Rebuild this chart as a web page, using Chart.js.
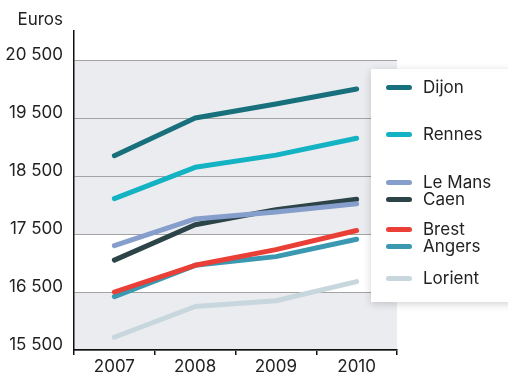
<!DOCTYPE html>
<html>
<head>
<meta charset="utf-8">
<script src="https://cdn.jsdelivr.net/npm/chart.js@4.4.1/dist/chart.umd.min.js"></script>
<style>
    body { margin: 0; background: #fff; font-family: Inter, sans-serif; }
    #wrap { position: relative; width: 508px; height: 373px; overflow: hidden; }
    #unit { position: absolute; right: 445px; top: 9px; font-size: 17px; color: #222; }
    #legend {
        position: absolute; left: 371px; top: 69px; width: 150px; height: 233px;
        background: #fff; box-shadow: 0 2px 8px rgba(0,0,0,0.18);
    }
    .leg-item { position: absolute; left: 15px; height: 20px; display: flex; align-items: center; }
    .leg-swatch { width: 26px; height: 5px; border-radius: 3px; margin-right: 11px; }
    .leg-label { font-size: 17px; color: #222; line-height: 20px; }
</style>
</head>
<body>
<div id="wrap">
    <canvas id="chart" width="508" height="373"></canvas>
    <div id="unit">Euros</div>
    <div id="legend"></div>
</div>
<script>
const years = ["2007", "2008", "2009", "2010"];
const yTicks = [15500, 16500, 17500, 18500, 19500, 20500];

const cities = ["Dijon", "Rennes", "Le Mans", "Caen", "Brest", "Angers", "Lorient"];
const dijon = [18850, 19500, 19740, 20000];
const rennes = [18110, 18650, 18860, 19150];
const leMans = [17300, 17760, 17880, 18020];
const caen = [17050, 17660, 17920, 18100];
const brest = [16500, 16960, 17230, 17560];
const angers = [16420, 16960, 17110, 17410];
const lorient = [15720, 16250, 16350, 16680];

const cityColors = ["#17707c", "#14b3c3", "#869ecb", "#2c4448", "#ea3f37", "#3a98b1", "#c8d6dd"];
const seriesValues = [dijon, rennes, leMans, caen, brest, angers, lorient];

// white band in the middle of the grey plot background
const whiteBand = [16500, 17500];
const greyTop = 20500;

function formatEuros(v) {
    const s = String(v);
    return s.slice(0, s.length - 3) + " " + s.slice(-3);
}

const bandsPlugin = {
    id: "bands",
    beforeDraw(chart) {
        const { ctx, chartArea, scales } = chart;
        const y = scales.y;
        ctx.save();
        ctx.fillStyle = "#ebecf0";
        ctx.fillRect(chartArea.left, y.getPixelForValue(greyTop), chartArea.right - chartArea.left,
            chartArea.bottom - y.getPixelForValue(greyTop));
        ctx.fillStyle = "#ffffff";
        const top = y.getPixelForValue(whiteBand[1]);
        ctx.fillRect(chartArea.left, top, chartArea.right - chartArea.left,
            y.getPixelForValue(whiteBand[0]) - top);
        ctx.restore();
    }
};

new Chart(document.getElementById("chart"), {
    type: "line",
    data: {
        labels: years,
        datasets: cities.map((name, i) => ({
            label: name,
            data: seriesValues[i],
            borderColor: cityColors[i],
            backgroundColor: cityColors[i],
            borderWidth: 5,
            borderCapStyle: "round",
            borderJoinStyle: "round",
            pointRadius: 0,
            tension: 0
        }))
    },
    options: {
        responsive: false,
        animation: false,
        layout: { padding: { top: 31, right: 111, left: 0, bottom: 0 } },
        plugins: { legend: { display: false }, tooltip: { enabled: false } },
        scales: {
            x: {
                offset: true,
                grid: { offset: true, drawOnChartArea: false, drawTicks: true, tickLength: 5, color: "#111", lineWidth: 1.5 },
                border: { color: "#111", width: 1.5 },
                ticks: { color: "#222", font: { family: "Inter", size: 17 }, padding: 2 },
                afterFit(scale) { scale.height = 23; }
            },
            y: {
                min: 15500,
                max: 21000,
                afterBuildTicks(scale) { scale.ticks = yTicks.map(v => ({ value: v })); },
                afterFit(scale) { scale.width = 74; },
                grid: { drawTicks: false, color: "#a3a3a3", lineWidth: 1 },
                border: { color: "#111", width: 1.5 },
                ticks: {
                    color: "#222",
                    font: { family: "Inter", size: 17 },
                    padding: 11,
                    labelOffset: -5,
                    callback: v => formatEuros(v)
                }
            }
        }
    },
    plugins: [bandsPlugin]
});

// legend, with the uneven spacing of the original
const legendTops = [77, 124, 172, 189, 219, 236, 268];
const legend = document.getElementById("legend");
legend.innerHTML = cities.map((name, i) => `
    <div class="leg-item" style="top:${legendTops[i] - 69}px">
        <div class="leg-swatch" style="background:${cityColors[i]}"></div>
        <span class="leg-label">${name}</span>
    </div>`).join("");
</script>
</body>
</html>
